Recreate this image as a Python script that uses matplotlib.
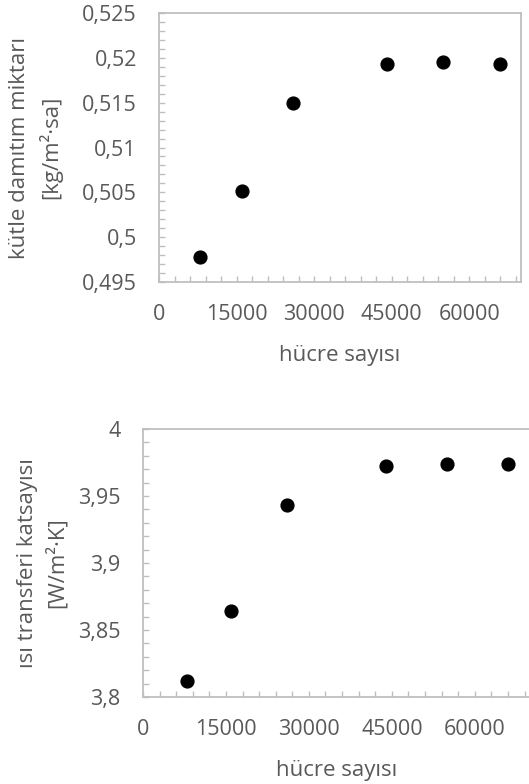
import numpy as np
import matplotlib
matplotlib.use("Agg")
import matplotlib.pyplot as plt
from matplotlib.ticker import MultipleLocator, FuncFormatter

# veri
hucre_sayisi = [8000, 16000, 26000, 44000, 55000, 66000]
kutle_damitim = [0.4978, 0.5051, 0.5150, 0.5193, 0.5195, 0.5193]
isi_transfer = [3.8122, 3.8645, 3.9430, 3.9726, 3.9741, 3.9741]

x_ticks = [0, 15000, 30000, 45000, 60000]
x_max = 70000

TEXT = "#595959"
GRID = "#bfbfbf"
FS = 15.5
plt.rcParams["font.family"] = ["Open Sans", "DejaVu Sans"]
plt.rcParams["font.size"] = FS


def virgul(v, pos):
    return "{:g}".format(round(v, 4)).replace(".", ",")


def stil(ax, ylim, ymajor, yminor):
    ax.set_xlim(0, x_max)
    ax.set_ylim(*ylim)
    ax.set_xticks(x_ticks)
    ax.xaxis.set_minor_locator(MultipleLocator(3000))
    ax.yaxis.set_major_locator(MultipleLocator(ymajor))
    ax.yaxis.set_minor_locator(MultipleLocator(yminor))
    ax.yaxis.set_major_formatter(FuncFormatter(virgul))
    for s in ax.spines.values():
        s.set_color(GRID)
        s.set_linewidth(1.3)
    ax.tick_params(which="both", direction="in", color=GRID, width=1.0,
                   length=4, labelcolor=TEXT, labelsize=FS)
    ax.tick_params(axis="x", which="major", pad=16)
    ax.tick_params(axis="y", which="major", pad=16)
    ax.set_xlabel("hücre sayısı", color=TEXT, fontsize=16, labelpad=14)


fig = plt.figure(figsize=(5.29, 7.84), dpi=100)

ax1 = fig.add_axes([0.3006, 0.6403, 0.6844, 0.3431])
ax1.scatter(hucre_sayisi, kutle_damitim, s=85, color="black", zorder=3)
stil(ax1, (0.495, 0.525), 0.005, 0.001)
ax1.set_ylabel("kütle damıtım miktarı\n[kg/m²·sa]", color=TEXT, fontsize=16,
               linespacing=1.4)
ax1.yaxis.set_label_coords(-0.268, 0.5)

ax2 = fig.add_axes([0.2703, 0.111, 0.7317, 0.3418])
ax2.scatter(hucre_sayisi, isi_transfer, s=85, color="black", zorder=3)
stil(ax2, (3.8, 4.0), 0.05, 0.01)
ax2.set_ylabel("ısı transferi katsayısı\n[W/m²·K]", color=TEXT, fontsize=16,
               linespacing=1.4)
ax2.yaxis.set_label_coords(-0.194, 0.5)

fig.savefig("out.png", dpi=100)
